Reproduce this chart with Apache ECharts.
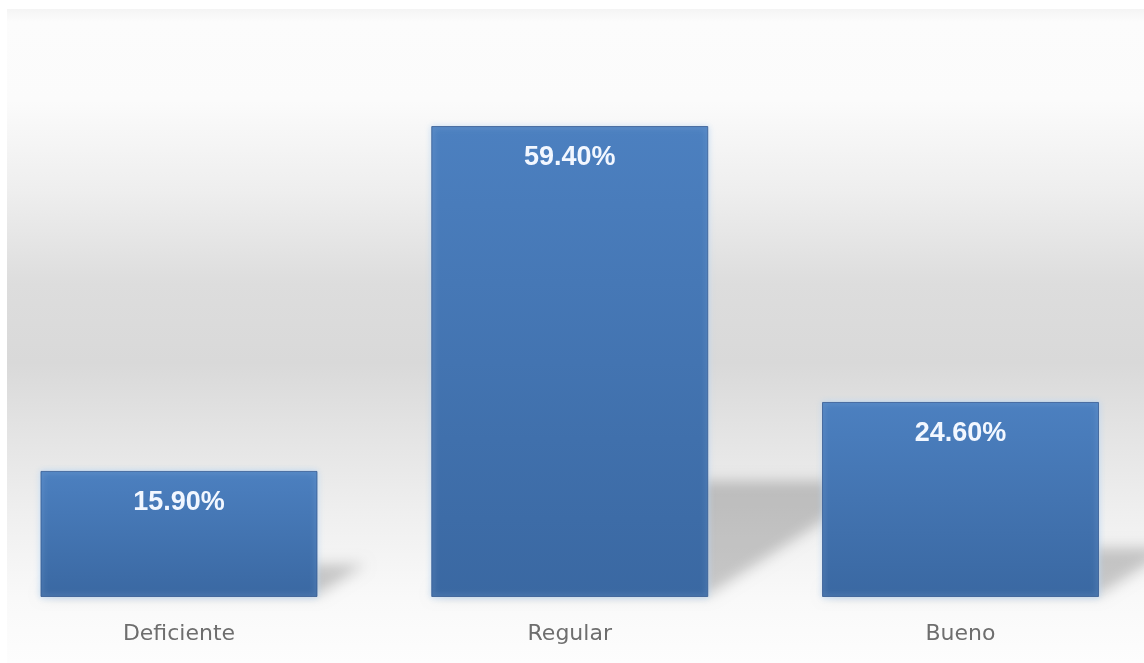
<!DOCTYPE html>
<html>
<head>
<meta charset="utf-8">
<title>Deficiente / Regular / Bueno</title>
<script src="https://cdn.jsdelivr.net/npm/echarts@6/dist/echarts.min.js"></script>
<style>
  html, body { margin: 0; padding: 0; background: #ffffff; }
  #chart { width: 1144px; height: 663px; }
</style>
</head>
<body>
<div id="chart"></div>
<script>
// Categories and percentage shares
var categories = ['Deficiente', 'Regular', 'Bueno'];
var shares = [15.9, 59.4, 24.6];

var BAR_WIDTH = 277;
// Perspective "floor" shadow: vertical squash and horizontal skew
var SHADOW_SQUASH = 0.242;
var SHADOW_SKEW = 1.55;
// The shadow shape is drawn off-canvas so only its blurred copy shows
var SHADOW_SHIFT = 3000;

var chart = echarts.init(document.getElementById('chart'), null, { renderer: 'canvas' });

function renderShadow(params, api) {
  var idx = api.value(0);
  var val = api.value(1);
  var base = api.coord([idx, 0]);
  var top = api.coord([idx, val]);
  var half = BAR_WIDTH / 2;
  var h = (base[1] - top[1]) * SHADOW_SQUASH;
  var dx = h * SHADOW_SKEW;
  var xL = base[0] - half - SHADOW_SHIFT, xR = base[0] + half - SHADOW_SHIFT, yB = base[1] - 2;
  return {
    type: 'polygon',
    shape: { points: [[xL, yB], [xR, yB], [xR + dx, yB - h], [xL + dx, yB - h]] },
    style: {
      fill: '#000',
      shadowBlur: 14,
      shadowOffsetX: SHADOW_SHIFT,
      shadowColor: 'rgba(0,0,0,0.2)'
    },
    silent: true
  };
}

var option = {
  backgroundColor: '#ffffff',
  animation: false,
  graphic: [{
    type: 'rect',
    left: 7,
    top: 9,
    z: -10,
    silent: true,
    shape: { width: 1140, height: 654 },
    style: {
      fill: new echarts.graphic.LinearGradient(0, 0, 0, 1, [
        { offset: 0, color: '#f4f4f4' },
        { offset: 0.02, color: '#fcfcfc' },
        { offset: 0.14, color: '#fbfbfb' },
        { offset: 0.28, color: '#eeeeee' },
        { offset: 0.42, color: '#dddddd' },
        { offset: 0.54, color: '#d9d9d9' },
        { offset: 0.64, color: '#e3e3e3' },
        { offset: 0.77, color: '#efefef' },
        { offset: 0.9, color: '#f9f9f9' },
        { offset: 1, color: '#fdfdfd' }
      ])
    }
  }],
  grid: {
    left: -16.4, right: -11.9, top: 42, bottom: 66,
    containLabel: false,
    outerBoundsMode: 'none'
  },
  xAxis: {
    type: 'category',
    data: categories,
    axisLine: { show: false },
    axisTick: { show: false },
    splitLine: { show: false },
    axisLabel: {
      margin: 26,
      color: '#6e6e6e',
      fontFamily: "'DejaVu Sans', sans-serif",
      fontSize: 22
    }
  },
  yAxis: {
    type: 'value',
    min: 0,
    max: 70,
    interval: 10,
    show: false,
    splitLine: { show: false }
  },
  series: [
    {
      type: 'custom',
      name: 'sombra',
      renderItem: renderShadow,
      data: shares.map(function (v, i) { return [i, v]; }),
      encode: { x: 0, y: 1 },
      z: 1,
      silent: true,
      clip: false
    },
    {
      type: 'bar',
      name: 'Porcentaje',
      data: shares,
      barWidth: BAR_WIDTH,
      z: 3,
      itemStyle: {
        color: new echarts.graphic.LinearGradient(0, 0, 0, 1, [
          { offset: 0, color: '#4c80c0' },
          { offset: 1, color: '#3a68a2' }
        ]),
        borderColor: 'rgba(52,90,145,0.8)',
        borderWidth: 1,
        shadowColor: 'rgba(185,215,245,0.9)',
        shadowBlur: 6
      },
      label: {
        show: true,
        position: 'insideTop',
        distance: 18,
        color: '#f2f7ff',
        fontFamily: "'Liberation Sans', sans-serif",
        fontWeight: 'bold',
        fontSize: 27,
        formatter: function (p) { return p.value.toFixed(2) + '%'; }
      }
    }
  ]
};

chart.setOption(option);
</script>
</body>
</html>
